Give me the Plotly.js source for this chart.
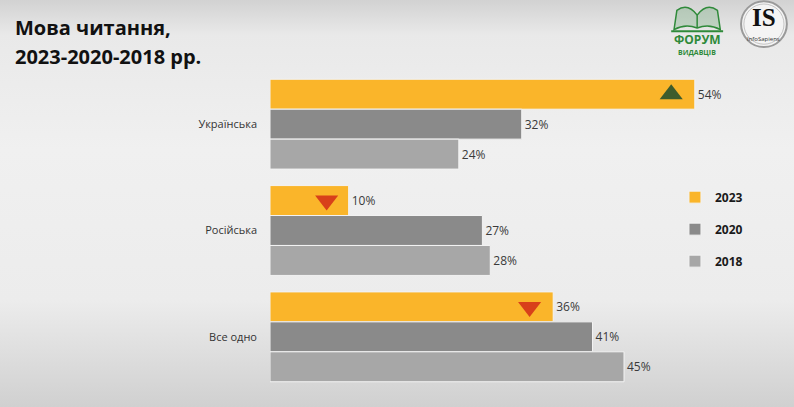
<!DOCTYPE html>
<html>
<head>
<meta charset="utf-8">
<script src="https://cdn.plot.ly/plotly-3.0.1.min.js"></script>
<style>
  html, body { margin: 0; padding: 0; }
  body {
    width: 794px; height: 407px; overflow: hidden;
    background: linear-gradient(to bottom, #d2d2d2 0px, #e9e9e9 35px, #f0f0f0 150px, #ececec 300px, #d0d0d0 407px);
  }
  #chart { width: 794px; height: 407px; }
</style>
</head>
<body>
<div id="chart"></div>
<script>
// languages of reading
const languages = ['Українська', 'Російська', 'Все одно'];
const years = ['2023', '2020', '2018'];

const share2023 = [54, 10, 36];
const share2020 = [32, 27, 41];
const share2018 = [24, 28, 45];

// trend arrows drawn inside the 2023 bars
const trendX = [51, 7.2, 33];
const trendDir = ['up', 'down', 'down'];

const colors = ['#fab52a', '#8a8a8a', '#a7a7a7'];
const bargap = 0.155;

const series = [share2023, share2020, share2018];

const traces = series.map((vals, i) => ({
  type: 'bar',
  orientation: 'h',
  name: years[i],
  legendgroup: years[i],
  y: languages,
  x: vals,
  marker: { color: colors[i], line: { color: '#f3f3f3', width: 1 } },
  texttemplate: '%{x}%',
  textposition: 'outside',
  textfont: { family: 'Open Sans, sans-serif', size: 12, color: '#3a3a3a' },
  cliponaxis: false,
  hoverinfo: 'skip'
}));

// arrows sit on a numeric overlay axis, shifted up by one bar slot
const slot = (1 - bargap) / 3;
traces.push({
  type: 'scatter',
  mode: 'markers',
  yaxis: 'y2',
  x: trendX,
  y: languages.map((_, i) => i - slot),
  marker: {
    symbol: trendDir.map(d => d === 'up' ? 'triangle-up' : 'triangle-down'),
    size: 20,
    color: trendDir.map(d => d === 'up' ? '#3e5c2c' : '#d8401a'),
    line: { width: 0 }
  },
  showlegend: false,
  hoverinfo: 'skip'
});

const green = '#2f8a3a';

const layout = {
  width: 794,
  height: 407,
  margin: { l: 270, r: 52, t: 71, b: 17 },
  paper_bgcolor: 'rgba(0,0,0,0)',
  plot_bgcolor: 'rgba(0,0,0,0)',
  barmode: 'group',
  bargap: bargap,
  bargroupgap: 0,
  font: { family: 'Open Sans, sans-serif', color: '#333' },
  xaxis: {
    range: [0, 60],
    showgrid: false, zeroline: false, showticklabels: false, showline: false, ticks: ''
  },
  yaxis: {
    autorange: 'reversed',
    type: 'category',
    showgrid: false, zeroline: false, showline: false, ticks: '',
    ticklabelstandoff: 12,
    tickfont: { family: 'Open Sans, sans-serif', size: 11, color: '#333' }
  },
  yaxis2: {
    overlaying: 'y',
    range: [2.5, -0.5],
    visible: false
  },
  showlegend: true,
  legend: {
    x: 0.858, xanchor: 'left',
    y: 0.65, yanchor: 'top',
    traceorder: 'grouped',
    tracegroupgap: 13,
    bgcolor: 'rgba(0,0,0,0)',
    itemwidth: 30,
    font: { family: 'Open Sans, sans-serif', size: 12, color: '#1a1a1a', weight: 'bold' }
  },
  shapes: [
    // Info Sapiens ring
    { type: 'circle', xref: 'paper', yref: 'paper',
      x0: 0.998, x1: 1.095, y0: 1.075, y1: 1.219,
      line: { color: '#9a9a9a', width: 2 }, fillcolor: '#f4f4f4' },
    { type: 'circle', xref: 'paper', yref: 'paper',
      x0: 1.004, x1: 1.089, y0: 1.084, y1: 1.210,
      line: { color: '#c4c4c4', width: 1 }, fillcolor: 'rgba(0,0,0,0)' },
    // book of the publishers forum
    { type: 'path', xref: 'paper', yref: 'paper',
      path: 'M 0.856 1.13 L 0.862 1.19 Q 0.885 1.215 0.905 1.175 Q 0.925 1.215 0.948 1.19 L 0.954 1.13 Q 0.93 1.15 0.905 1.135 Q 0.88 1.15 0.856 1.13 Z',
      line: { color: green, width: 1.5 }, fillcolor: 'rgba(47,138,58,0.2)' },
    { type: 'line', xref: 'paper', yref: 'paper',
      x0: 0.905, x1: 0.905, y0: 1.135, y1: 1.175,
      line: { color: green, width: 1.5 } },
    { type: 'line', xref: 'paper', yref: 'paper',
      x0: 0.85, x1: 0.96, y0: 1.125, y1: 1.125,
      line: { color: green, width: 2 } }
  ],
  annotations: [
    { xref: 'paper', yref: 'paper', x: -0.545, y: 1.135, xanchor: 'left', yanchor: 'middle',
      showarrow: false, text: 'Мова читання,',
      font: { family: 'Open Sans, sans-serif', size: 20, color: '#111', weight: 'bold' } },
    { xref: 'paper', yref: 'paper', x: -0.545, y: 1.047, xanchor: 'left', yanchor: 'middle',
      showarrow: false, text: '2023-2020-2018 рр.',
      font: { family: 'Open Sans, sans-serif', size: 20, color: '#111', weight: 'bold' } },
    { xref: 'paper', yref: 'paper', x: 0.905, y: 1.127, xanchor: 'center', yanchor: 'top',
      showarrow: false, text: 'ФОРУМ', borderpad: 0,
      font: { family: 'Open Sans, sans-serif', size: 12, color: green, weight: 'bold' } },
    { xref: 'paper', yref: 'paper', x: 0.905, y: 1.074, xanchor: 'center', yanchor: 'top',
      showarrow: false, text: 'ВИДАВЦІВ', borderpad: 0,
      font: { family: 'Open Sans, sans-serif', size: 7, color: green, weight: 'bold' } },
    { xref: 'paper', yref: 'paper', x: 1.0466, y: 1.212, xanchor: 'center', yanchor: 'top',
      showarrow: false, text: 'IS', borderpad: 0,
      font: { family: 'Liberation Serif, serif', size: 25, color: '#111', weight: 'bold' } },
    { xref: 'paper', yref: 'paper', x: 1.0466, y: 1.117, xanchor: 'center', yanchor: 'top',
      showarrow: false, text: 'InfoSapiens', borderpad: 0,
      font: { family: 'Open Sans, sans-serif', size: 6, color: '#333' } }
  ]
};

Plotly.newPlot('chart', traces, layout, { displayModeBar: false, staticPlot: true });
</script>
</body>
</html>
